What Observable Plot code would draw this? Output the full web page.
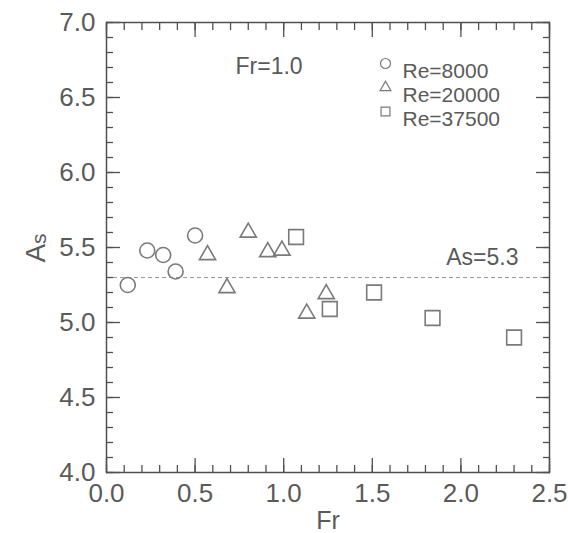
<!DOCTYPE html>
<html><head><meta charset="utf-8">
<script src="https://cdn.jsdelivr.net/npm/d3@7"></script>
<script src="https://cdn.jsdelivr.net/npm/@observablehq/plot@0.6"></script>
<style>
body{margin:0;background:#fff;}
#chart svg{display:block;font-family:"Liberation Sans",Arial,Helvetica,sans-serif;}
</style>
</head><body><div id="chart"></div>
<script>
// Data
const re8000Fr  = [0.12, 0.23, 0.32, 0.39, 0.50];
const re8000As  = [5.25, 5.48, 5.45, 5.34, 5.58];
const re20000Fr = [0.57, 0.68, 0.80, 0.91, 0.99, 1.13, 1.24];
const re20000As = [5.45, 5.23, 5.60, 5.47, 5.48, 5.06, 5.19];
const re37500Fr = [1.07, 1.26, 1.51, 1.84, 2.30];
const re37500As = [5.57, 5.09, 5.20, 5.03, 4.90];
const seriesNames = ["Re=8000", "Re=20000", "Re=37500"];
const seriesSymbols = ["circle", "triangle", "square"];
const xMajorTicks = [0, 0.5, 1.0, 1.5, 2.0, 2.5];
const xTickLabels = ["0.0", "0.5", "1.0", "1.5", "2.0", "2.5"];
const yMajorTicks = [4.0, 4.5, 5.0, 5.5, 6.0, 6.5, 7.0];
const yTickLabels = ["4.0", "4.5", "5.0", "5.5", "6.0", "6.5", "7.0"];
const xMinorTicks = d3.range(0, 26).map(i => i / 10);
const yMinorTicks = d3.range(40, 71).map(i => i / 10);
const refLevel = [5.3];
const refLabel = "As=5.3";
const frLabel = "Fr=1.0";

const toRows = (xs, ys) => xs.map((x, i) => ({Fr: x, As: ys[i]}));
const s1 = toRows(re8000Fr, re8000As);
const s2 = toRows(re20000Fr, re20000As);
const s3 = toRows(re37500Fr, re37500As);

const axisColor = "#505050";
const labelColor = "#5a5a5a";
const markColor = "#7a7a7a";

const tickAxes = [];
for (const anchor of ["bottom", "top"]) {
  tickAxes.push(Plot.axisX({anchor, ticks: xMinorTicks, tickSize: -7, text: null, stroke: axisColor, strokeWidth: 1.3, label: null}));
  tickAxes.push(Plot.axisX({anchor, ticks: xMajorTicks, tickSize: -14, text: null, stroke: axisColor, strokeWidth: 1.3, label: null}));
}
for (const anchor of ["left", "right"]) {
  tickAxes.push(Plot.axisY({anchor, ticks: yMinorTicks, tickSize: -7, text: null, stroke: axisColor, strokeWidth: 1.3, label: null}));
  tickAxes.push(Plot.axisY({anchor, ticks: yMajorTicks, tickSize: -14, text: null, stroke: axisColor, strokeWidth: 1.3, label: null}));
}

const legendDy = [41, 65, 89];
const legendMarks = [];
seriesNames.forEach((name, i) => {
  legendMarks.push(Plot.dot([0], {frameAnchor: "top-left", dx: 279, dy: legendDy[i], symbol: seriesSymbols[i], r: [5, 4, 5][i], stroke: markColor, strokeWidth: 1.2}));
  legendMarks.push(Plot.text([name], {frameAnchor: "top-left", dx: 296, dy: legendDy[i], text: d => d, textAnchor: "start", fontSize: 21, fill: labelColor}));
});

const plot = Plot.plot({
  width: 568,
  height: 533,
  marginLeft: 106,
  marginRight: 19,
  marginTop: 22,
  marginBottom: 61,
  style: {background: "#fff", color: labelColor, fontFamily: "Liberation Sans, Arial, Helvetica, sans-serif"},
  x: {domain: [0, 2.5]},
  y: {domain: [4, 7]},
  marks: [
    Plot.ruleY(refLevel, {stroke: "#9a9a9a", strokeWidth: 1, strokeDasharray: "4,3"}),
    Plot.dot(s1, {x: "Fr", y: "As", symbol: "circle", r: 7.5, stroke: markColor, strokeWidth: 1.6}),
    Plot.dot(s2, {x: "Fr", y: "As", symbol: "triangle", r: 6, stroke: markColor, strokeWidth: 1.6}),
    Plot.dot(s3, {x: "Fr", y: "As", symbol: "square", r: 8.3, stroke: markColor, strokeWidth: 1.6}),
    ...tickAxes,
    Plot.axisX({anchor: "bottom", ticks: xMajorTicks, tickSize: 0, tickPadding: 11,
      tickFormat: d => xTickLabels[xMajorTicks.indexOf(d)], fontSize: 26, fill: labelColor,
      label: "Fr", labelAnchor: "center", labelArrow: "none", labelOffset: 56}),
    Plot.axisY({anchor: "left", ticks: yMajorTicks, tickSize: 0, tickPadding: 11,
      tickFormat: d => yTickLabels[yMajorTicks.indexOf(d)], fontSize: 26, fill: labelColor, label: null}),
    Plot.frame({stroke: axisColor, strokeWidth: 1.5}),
    Plot.text([frLabel], {frameAnchor: "top-left", dx: 129, dy: 35, text: d => d, fontSize: 23, fill: labelColor}),
    Plot.text([refLabel], {frameAnchor: "top-right", dx: -31, dy: 226, text: d => d, textAnchor: "end", fontSize: 23, fill: labelColor}),
    ...legendMarks
  ]
});

document.getElementById("chart").appendChild(plot);

// Y-axis label "A_s" with subscript, as real text
const svg = d3.select(plot);
const yl = svg.append("text")
  .attr("transform", "translate(45,248) rotate(-90)")
  .attr("text-anchor", "middle")
  .attr("fill", labelColor)
  .attr("font-size", 28)
  .attr("font-family", "Liberation Sans, Arial, Helvetica, sans-serif");
yl.append("tspan").text("A");
yl.append("tspan").attr("font-size", 21).attr("dy", 1).text("s");
// x label font size
svg.selectAll("g[aria-label='x-axis label'] text").attr("font-size", 25);
</script>
</body></html>
